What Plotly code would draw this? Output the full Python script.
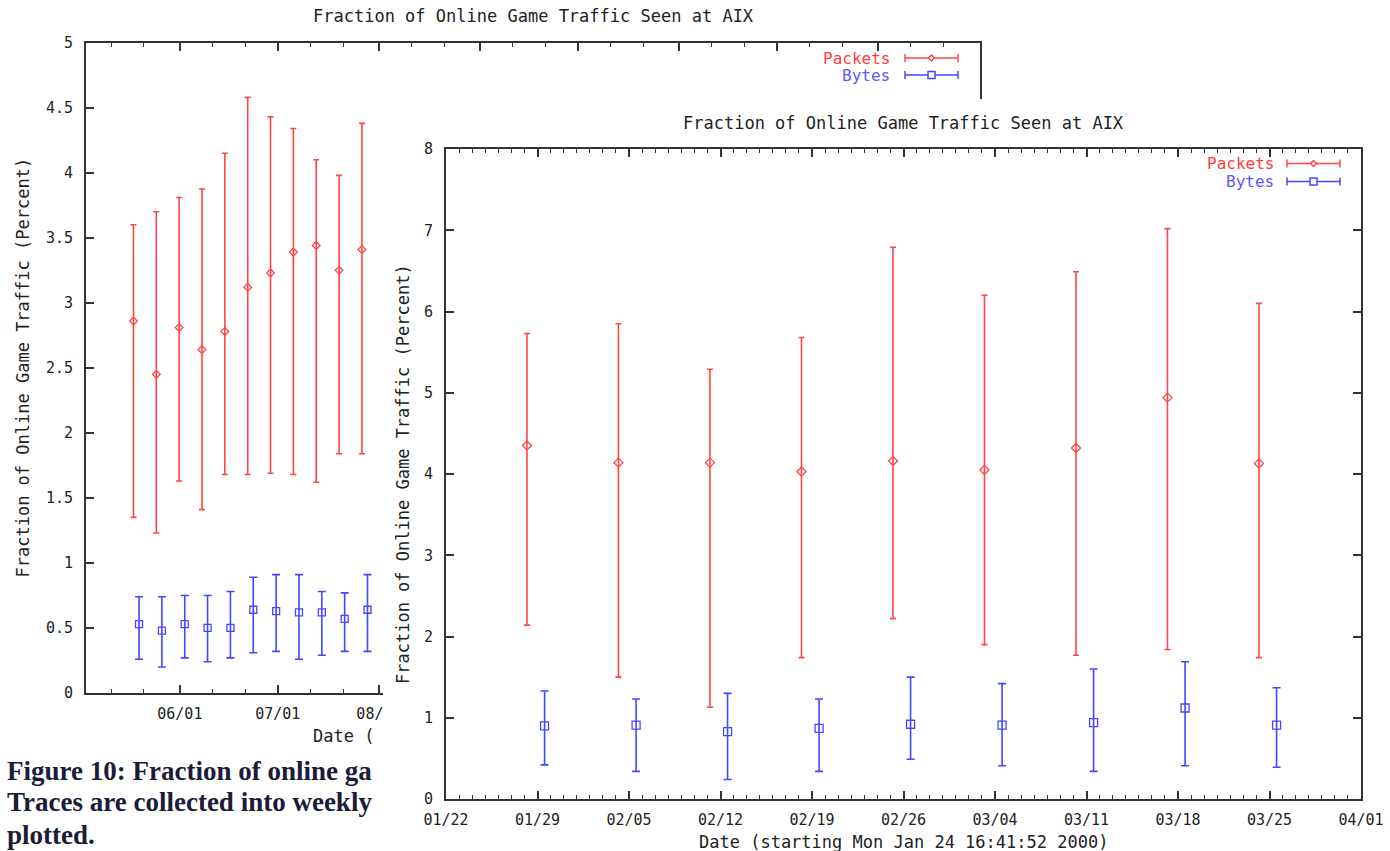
import plotly.graph_objects as go

W, H = 1390, 851

# ---------------- data: back chart (summer 2000) ----------------
back_pk_x = ["2000-05-17 19:00", "2000-05-24 19:00", "2000-05-31 19:00", "2000-06-07 19:00",
             "2000-06-14 19:00", "2000-06-21 19:00", "2000-06-28 19:00", "2000-07-05 19:00",
             "2000-07-12 19:00", "2000-07-19 19:00", "2000-07-26 19:00"]
back_pk_mean = [2.86, 2.45, 2.81, 2.64, 2.78, 3.12, 3.23, 3.39, 3.44, 3.25, 3.41]
back_pk_hi = [3.60, 3.70, 3.81, 3.875, 4.15, 4.58, 4.43, 4.34, 4.10, 3.98, 4.38]
back_pk_lo = [1.35, 1.23, 1.63, 1.41, 1.68, 1.68, 1.69, 1.68, 1.62, 1.84, 1.84]

back_by_x = ["2000-05-19 12:00", "2000-05-26 12:00", "2000-06-02 12:00", "2000-06-09 12:00",
             "2000-06-16 12:00", "2000-06-23 12:00", "2000-06-30 12:00", "2000-07-07 12:00",
             "2000-07-14 12:00", "2000-07-21 12:00", "2000-07-28 12:00"]
back_by_mean = [0.53, 0.48, 0.53, 0.50, 0.50, 0.64, 0.63, 0.62, 0.62, 0.57, 0.64]
back_by_hi = [0.74, 0.74, 0.75, 0.75, 0.78, 0.89, 0.91, 0.91, 0.78, 0.77, 0.91]
back_by_lo = [0.26, 0.20, 0.27, 0.24, 0.27, 0.31, 0.32, 0.26, 0.29, 0.32, 0.32]

# ---------------- data: front chart (Jan-Mar 2000) ----------------
front_pk_x = ["2000-01-28 04:40", "2000-02-04 04:40", "2000-02-11 04:40", "2000-02-18 04:40",
              "2000-02-25 04:40", "2000-03-03 04:40", "2000-03-10 04:40", "2000-03-17 04:40",
              "2000-03-24 04:40"]
front_pk_mean = [4.35, 4.14, 4.14, 4.03, 4.16, 4.05, 4.32, 4.94, 4.13]
front_pk_hi = [5.73, 5.85, 5.29, 5.68, 6.79, 6.20, 6.49, 7.02, 6.10]
front_pk_lo = [2.14, 1.50, 1.13, 1.74, 2.22, 1.90, 1.77, 1.84, 1.74]

front_by_x = ["2000-01-29 13:00", "2000-02-05 13:00", "2000-02-12 13:00", "2000-02-19 13:00",
              "2000-02-26 13:00", "2000-03-04 13:00", "2000-03-11 13:00", "2000-03-18 13:00",
              "2000-03-25 13:00"]
front_by_mean = [0.90, 0.91, 0.83, 0.87, 0.92, 0.91, 0.94, 1.12, 0.91]
front_by_hi = [1.33, 1.23, 1.30, 1.23, 1.50, 1.42, 1.60, 1.69, 1.37]
front_by_lo = [0.42, 0.34, 0.24, 0.34, 0.49, 0.41, 0.34, 0.41, 0.39]

title_text = "Fraction of Online Game Traffic Seen at AIX"
ytitle_text = "Fraction of Online Game Traffic (Percent)"
front_xtitle = "Date (starting Mon Jan 24 16:41:52 2000)"
back_xtitle_visible = "Date ("
series_names = ["Packets", "Bytes"]
caption_lines = ["Figure 10: Fraction of online ga",
                 "Traces are collected into weekly",
                 "plotted."]

# ---------------- styles ----------------
RED = "rgb(255,70,70)"
BLUE = "rgb(70,70,255)"
AX = "#333333"
MONO = "DejaVu Sans Mono"
TXT = "#222222"


def px(x):
    return x / W


def py(y):
    return 1 - y / H


def errs(mean, hi, lo):
    return ([h - m for h, m in zip(hi, mean)], [m - l for m, l in zip(mean, lo)])


def series(x, mean, hi, lo, color, symbol, size, xa, ya, name, cap):
    plus, minus = errs(mean, hi, lo)
    return go.Scatter(
        x=x, y=mean, mode="markers", name=name, xaxis=xa, yaxis=ya, showlegend=False,
        marker=dict(symbol=symbol, size=size, color=color, line=dict(color=color, width=1.3)),
        error_y=dict(type="data", symmetric=False, array=plus, arrayminus=minus,
                     color=color, thickness=1.6, width=cap),
    )


fig = go.Figure()
# back chart (subplot xy)
fig.add_trace(series(back_pk_x, back_pk_mean, back_pk_hi, back_pk_lo, RED, "diamond-open", 6,
                     "x", "y", series_names[0], 3))
fig.add_trace(series(back_by_x, back_by_mean, back_by_hi, back_by_lo, BLUE, "square-open", 7,
                     "x", "y", series_names[1], 4))
# occluding sheet (subplot x2y2) - the front page lying on top of the back chart
fig.add_trace(go.Scatter(x=[None], y=[None], xaxis="x2", yaxis="y2", showlegend=False,
                         hoverinfo="skip"))
# front chart (subplot x3y3)
fig.add_trace(series(front_pk_x, front_pk_mean, front_pk_hi, front_pk_lo, RED, "diamond-open", 7,
                     "x3", "y3", series_names[0], 3))
fig.add_trace(series(front_by_x, front_by_mean, front_by_hi, front_by_lo, BLUE, "square-open", 8,
                     "x3", "y3", series_names[1], 4))

common_axis = dict(showline=True, linecolor=AX, linewidth=2, mirror="ticks", ticks="inside",
                   tickcolor=AX, tickwidth=1.5, ticklen=8, showgrid=False, zeroline=False,
                   automargin=False,
                   tickfont=dict(family=MONO, size=15, color=TXT))

back_minor = [f"{yy}-{mm:02d}-{dd:02d}"
              for yy, mm in [(2000, 5), (2000, 6), (2000, 7), (2000, 8), (2000, 9), (2000, 10),
                             (2000, 11), (2000, 12), (2001, 1)]
              for dd in (11, 21)]

fig.update_layout(
    width=W, height=H, autosize=False,
    margin=dict(l=0, r=0, t=0, b=0, pad=0),
    paper_bgcolor="white", plot_bgcolor="white",
    showlegend=False,
    xaxis=dict(common_axis, domain=[px(86), px(979.5)], anchor="y", type="date",
               range=["2000-05-03 06:00", "2001-02-01"], dtick="M1", tick0="2000-06-01",
               tickformat="%m/%d", ticklabelstandoff=6,
               minor=dict(tickvals=back_minor, ticks="inside", ticklen=4, tickwidth=1,
                          tickcolor=AX)),
    yaxis=dict(common_axis, domain=[py(693), py(42.7)], anchor="x", range=[0, 5], dtick=0.5,
               ticklabelstandoff=8),
    xaxis2=dict(domain=[px(383), 1], anchor="y2", range=[0, 1], visible=False, fixedrange=True,
                automargin=False),
    yaxis2=dict(domain=[0, py(99)], anchor="x2", range=[0, 1], visible=False, fixedrange=True,
                automargin=False),
    xaxis3=dict(common_axis, domain=[px(446), px(1361)], anchor="y3", type="date",
                range=["2000-01-22", "2000-04-01"], dtick=7 * 86400000, tick0="2000-01-22",
                tickformat="%m/%d", ticklabelstandoff=6,
                minor=dict(dtick=86400000, tick0="2000-01-22", ticks="inside", ticklen=4,
                           tickwidth=1, tickcolor=AX)),
    yaxis3=dict(common_axis, domain=[py(799), py(149)], anchor="x3", range=[0, 8], dtick=1,
                ticklabelstandoff=8),
)

# the front page covers the back chart
fig.add_shape(type="rect", xref="x2", yref="y2", x0=-0.01, x1=1.01, y0=-0.01, y1=1.01,
              fillcolor="white", line=dict(width=0), layer="below")


def ann(text, x, y, size=17, color=TXT, xanchor="center", angle=0, family=MONO, weight=None):
    f = dict(family=family, size=size, color=color)
    if weight:
        f["weight"] = weight
    fig.add_annotation(text=text, x=px(x), y=py(y), xref="paper", yref="paper",
                       showarrow=False, xanchor=xanchor, yanchor="middle", textangle=angle,
                       font=f)


# titles
ann(title_text, 533, 16)
ann(title_text, 903, 122.5)
ann(ytitle_text, 22, 367.5, angle=-90)
ann(ytitle_text, 403, 474, angle=-90)
ann(back_xtitle_visible, 311, 736, xanchor="left")
ann(front_xtitle, 903, 842)


# legends (gnuplot style: label right-aligned, error-bar sample on the right)
def legend_key(x0, x1, y, color, marker):
    lw = dict(color=color, width=1.5)
    fig.add_shape(type="line", xref="paper", yref="paper", x0=px(x0), x1=px(x1),
                  y0=py(y), y1=py(y), line=lw, layer="above")
    for xc in (x0, x1):
        fig.add_shape(type="line", xref="paper", yref="paper", x0=px(xc), x1=px(xc),
                      y0=py(y - 4), y1=py(y + 4), line=lw, layer="above")
    xm = (x0 + x1) / 2
    if marker == "square":
        fig.add_shape(type="rect", xref="paper", yref="paper", x0=px(xm - 3.5), x1=px(xm + 3.5),
                      y0=py(y - 3.5), y1=py(y + 3.5), line=lw, fillcolor="white", layer="above")
    else:
        path = (f"M {px(xm - 3)},{py(y)} L {px(xm)},{py(y - 3)} L {px(xm + 3)},{py(y)} "
                f"L {px(xm)},{py(y + 3)} Z")
        fig.add_shape(type="path", xref="paper", yref="paper", path=path, line=lw,
                      fillcolor="white", layer="above")


for (lx, kx0, kx1, y1, y2) in [(892, 905, 958, 58, 75), (1276, 1287, 1340, 163.5, 181.5)]:
    ann(series_names[0], lx, y1, size=16, color="#ff3c3c", xanchor="right")
    ann(series_names[1], lx, y2, size=16, color="#5a5aff", xanchor="right")
    legend_key(kx0, kx1, y1, RED, "diamond")
    legend_key(kx0, kx1, y2, BLUE, "square")

# caption fragment visible at lower left
for text, y in zip(caption_lines, [771, 802, 835]):
    ann(text, 5, y, size=27, color="#1b1b3a", xanchor="left", family="Liberation Serif",
        weight="bold")

fig.write_html("out.html")
